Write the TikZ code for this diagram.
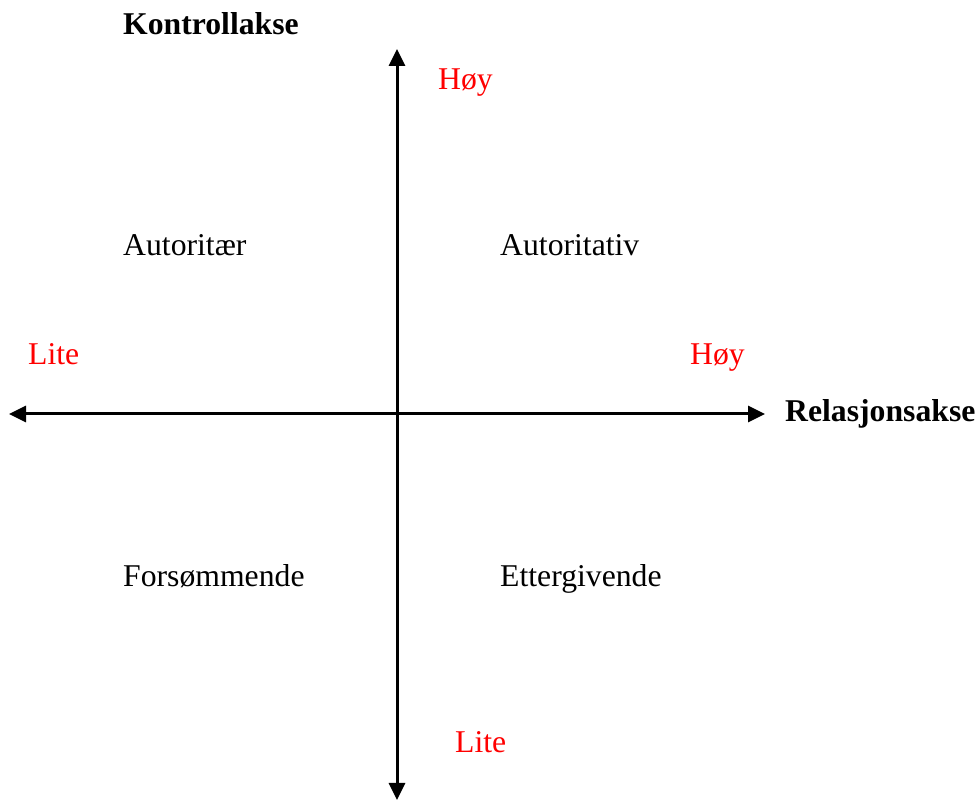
\documentclass[tikz,border=0pt]{standalone}
\usepackage{fontspec}
\setmainfont{Liberation Serif}
\usepackage{tikz}
\usetikzlibrary{arrows.meta}
\definecolor{labelred}{RGB}{255,0,0}

\begin{document}
\begin{tikzpicture}[x=1pt,y=1pt,
    txt/.style={anchor=base west,inner sep=0pt,font=\fontsize{31.7}{38}\selectfont},
    axlbl/.style={txt,font=\fontsize{31.7}{38}\selectfont\bfseries},
    endlbl/.style={txt,text=labelred},
    axis/.style={line width=3pt,{Triangle[length=17pt,width=16pt]}-{Triangle[length=17pt,width=16pt]}}]
  % Canvas: 978 x 801, origin bottom left
  \useasboundingbox (0,0) rectangle (978,801);
  % Axis end points
  \coordinate (yup) at (397,752);
  \coordinate (ydown) at (397,1);
  \coordinate (xleft) at (9,387);
  \coordinate (xright) at (765,387);
  \draw[axis] (ydown) -- (yup);
  \draw[axis] (xleft) -- (xright);
  % Axis names
  \node[axlbl] (kontroll) at (123,766) {Kontrollakse};
  \node[axlbl] (relasjon) at (785,379) {Relasjonsakse};
  % High / low ends
  \node[endlbl] (hoyy) at (438,711) {Høy};
  \node[endlbl] (litey) at (455,48) {Lite};
  \node[endlbl] (litex) at (28,436) {Lite};
  \node[endlbl] (hoyx) at (690,436) {Høy};
  % Quadrants
  \node[txt] (autoritaer) at (123,545) {Autoritær};
  \node[txt] (autoritativ) at (500,545) {Autoritativ};
  \node[txt] (forsommende) at (123,214) {Forsømmende};
  \node[txt] (ettergivende) at (500,214) {Ettergivende};
\end{tikzpicture}
\end{document}
